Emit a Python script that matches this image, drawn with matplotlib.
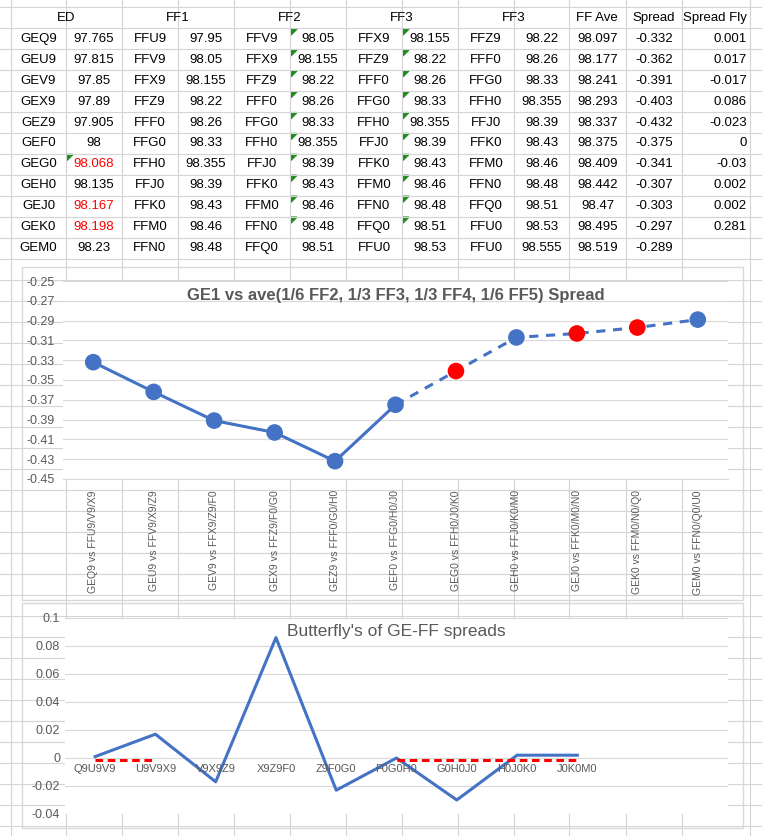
import numpy as np
import matplotlib
matplotlib.use("Agg")
import matplotlib.pyplot as plt
from matplotlib.patches import Rectangle, Polygon

plt.rcParams['font.family'] = ['Liberation Sans', 'DejaVu Sans']

# ---- table data ----
ed_names = ["GEQ9", "GEU9", "GEV9", "GEX9", "GEZ9", "GEF0", "GEG0", "GEH0", "GEJ0", "GEK0", "GEM0"]
ed_vals = ["97.765", "97.815", "97.85", "97.89", "97.905", "98", "98.068", "98.135", "98.167", "98.198", "98.23"]
ff1_names = ["FFU9", "FFV9", "FFX9", "FFZ9", "FFF0", "FFG0", "FFH0", "FFJ0", "FFK0", "FFM0", "FFN0"]
ff1_vals = ["97.95", "98.05", "98.155", "98.22", "98.26", "98.33", "98.355", "98.39", "98.43", "98.46", "98.48"]
ff2_names = ["FFV9", "FFX9", "FFZ9", "FFF0", "FFG0", "FFH0", "FFJ0", "FFK0", "FFM0", "FFN0", "FFQ0"]
ff2_vals = ["98.05", "98.155", "98.22", "98.26", "98.33", "98.355", "98.39", "98.43", "98.46", "98.48", "98.51"]
ff3_names = ["FFX9", "FFZ9", "FFF0", "FFG0", "FFH0", "FFJ0", "FFK0", "FFM0", "FFN0", "FFQ0", "FFU0"]
ff3_vals = ["98.155", "98.22", "98.26", "98.33", "98.355", "98.39", "98.43", "98.46", "98.48", "98.51", "98.53"]
ff4_names = ["FFZ9", "FFF0", "FFG0", "FFH0", "FFJ0", "FFK0", "FFM0", "FFN0", "FFQ0", "FFU0", "FFU0"]
ff4_vals = ["98.22", "98.26", "98.33", "98.355", "98.39", "98.43", "98.46", "98.48", "98.51", "98.53", "98.555"]
ff_ave = ["98.097", "98.177", "98.241", "98.293", "98.337", "98.375", "98.409", "98.442", "98.47", "98.495", "98.519"]
spread_txt = ["-0.332", "-0.362", "-0.391", "-0.403", "-0.432", "-0.375", "-0.341", "-0.307", "-0.303", "-0.297", "-0.289"]
fly_txt = ["0.001", "0.017", "-0.017", "0.086", "-0.023", "0", "-0.03", "0.002", "0.002", "0.281", ""]
headers = ["ED", "FF1", "FF2", "FF3", "FF3", "FF Ave", "Spread", "Spread Fly"]
red_ed_rows = [6, 8, 9]

# ---- chart data ----
spread_labels = ["GEQ9 vs FFU9/V9/X9", "GEU9 vs FFV9/X9/Z9", "GEV9 vs FFX9/Z9/F0",
                 "GEX9 vs FFZ9/F0/G0", "GEZ9 vs FFF0/G0/H0", "GEF0 vs FFG0/H0/J0",
                 "GEG0 vs FFH0/J0/K0", "GEH0 vs FFJ0/K0/M0", "GEJ0 vs FFK0/M0/N0",
                 "GEK0 vs FFM0/N0/Q0", "GEM0 vs FFN0/Q0/U0"]
spread = [-0.332, -0.362, -0.391, -0.403, -0.432, -0.375, -0.341, -0.307, -0.303, -0.297, -0.289]
red_points = [6, 8, 9]
fly_labels = ["Q9U9V9", "U9V9X9", "V9X9Z9", "X9Z9F0", "Z9F0G0", "F0G0H0", "G0H0J0", "H0J0K0", "J0K0M0", "", ""]
fly = [0.001, 0.017, -0.017, 0.086, -0.023, 0.0, -0.03, 0.002, 0.002]
fly_ref = [-0.0015, -0.0015, np.nan, np.nan, np.nan, -0.0015, -0.0015, -0.0015, -0.0015]

W, H = 762, 836
fig = plt.figure(figsize=(W / 100, H / 100), dpi=100)
fig.patch.set_facecolor("white")
bg = fig.add_axes([0, 0, 1, 1])
bg.set_xlim(0, W)
bg.set_ylim(H, 0)
bg.axis("off")

grid_c = "#d4d4d4"
col_x = [11, 66, 122, 178, 234, 290, 346, 402, 458, 514, 569, 626, 682, 750]
for x in col_x:
    bg.plot([x, x], [0, H], color=grid_c, lw=0.8)
row_y = [7] + [28 + 21 * k for k in range(40)]
for y in row_y:
    bg.plot([0, W], [y, y], color=grid_c, lw=0.8)

fs = 9.5
hdr_x = [66, 178, 290, 402, 514, 597, 654, 715]
for x, t in zip(hdr_x, headers):
    bg.text(x, 18, t, ha="center", va="center", fontsize=fs)

centers = [(col_x[i] + col_x[i + 1]) / 2 for i in range(12)]
cols = [ed_names, ed_vals, ff1_names, ff1_vals, ff2_names, ff2_vals,
        ff3_names, ff3_vals, ff4_names, ff4_vals, ff_ave, spread_txt]
for r in range(11):
    y = 39 + 20.9 * r
    for c, col in enumerate(cols):
        color = "red" if (c == 1 and r in red_ed_rows) else "black"
        bg.text(centers[c], y, col[r], ha="center", va="center", fontsize=fs, color=color)
    bg.text(747, y, fly_txt[r], ha="right", va="center", fontsize=fs)
    # green comment triangles
    tri_cols = [5, 7] if r < 10 else []
    if r == 6:
        tri_cols = tri_cols + [1]
    for c in tri_cols:
        x0 = col_x[c] + 1
        y0 = 29 + 20.9 * r
        bg.add_patch(Polygon([[x0, y0], [x0 + 6, y0], [x0, y0 + 6]], color="#1e8c1e"))

# chart frames
for (x0, y0, x1, y1) in [(22, 267, 743, 600), (22, 603, 743, 828)]:
    bg.add_patch(Rectangle((x0, y0), x1 - x0, y1 - y0, facecolor="white", edgecolor="#d9d9d9", lw=1))

blue = "#4472c4"
txt_c = "#595959"


def fig_rect(x0, y0, x1, y1):
    return [x0 / W, 1 - y1 / H, (x1 - x0) / W, (y1 - y0) / H]


# ---- top chart ----
ax1 = fig.add_axes(fig_rect(63, 281, 728, 479))
x = np.arange(len(spread))
ax1.plot(x[:6], spread[:6], color=blue, lw=2.2)
ax1.plot(x[5:], spread[5:], color=blue, lw=2.2, ls=(0, (3, 2.5)))
cols_pts = ["red" if i in red_points else blue for i in x]
ax1.scatter(x, spread, s=120, c=cols_pts, zorder=3)
ax1.set_xlim(-0.5, len(spread) - 0.5)
ax1.set_ylim(-0.45, -0.25)
ax1.set_yticks(np.arange(-0.45, -0.2499, 0.02))
ax1.set_yticklabels([f"{v:.2f}" for v in np.arange(-0.45, -0.2499, 0.02)])
ax1.set_xticks(x)
ax1.set_xticklabels(spread_labels, rotation=90, fontsize=7.5, color=txt_c)
ax1.grid(axis="y", color="#d9d9d9", lw=0.8)
ax1.set_axisbelow(True)
for s in ax1.spines.values():
    s.set_visible(False)
ax1.spines["bottom"].set_visible(True)
ax1.spines["bottom"].set_color("#d9d9d9")
ax1.tick_params(length=0, labelsize=9, colors=txt_c, pad=6)
ax1.tick_params(axis="x", labelsize=7.5, pad=8)
ax1.set_title("GE1 vs ave(1/6 FF2, 1/3 FF3, 1/3 FF4, 1/6 FF5) Spread",
              fontsize=12, fontweight="bold", color=txt_c, y=0.86)

# ---- bottom chart ----
ax2 = fig.add_axes(fig_rect(65, 618, 728, 814))
xf = np.arange(len(fly))
ax2.plot(xf, fly, color=blue, lw=2.2)
ax2.plot(xf, fly_ref, color="red", lw=2.2, ls=(0, (2.5, 1.5)))
ax2.set_xlim(-0.5, len(fly_labels) - 0.5)
ax2.set_ylim(-0.04, 0.1)
ax2.set_yticks(np.arange(-0.04, 0.1001, 0.02))
ax2.set_yticklabels([f"{v:g}" if abs(v) > 1e-9 else "0" for v in np.arange(-0.04, 0.1001, 0.02)])
ax2.set_xticks(np.arange(len(fly_labels)))
ax2.set_xticklabels([])
for i, lab in enumerate(fly_labels):
    ax2.text(i, -0.0075, lab, ha="center", va="center", fontsize=8, color=txt_c)
ax2.grid(axis="y", color="#d9d9d9", lw=0.8)
ax2.set_axisbelow(True)
for s in ax2.spines.values():
    s.set_visible(False)
ax2.tick_params(length=0, labelsize=9, colors=txt_c)
ax2.text(0.5, 0.93, "Butterfly's of GE-FF spreads", transform=ax2.transAxes,
         ha="center", va="center", fontsize=12.5, color=txt_c)

fig.savefig("out.png", dpi=100)
